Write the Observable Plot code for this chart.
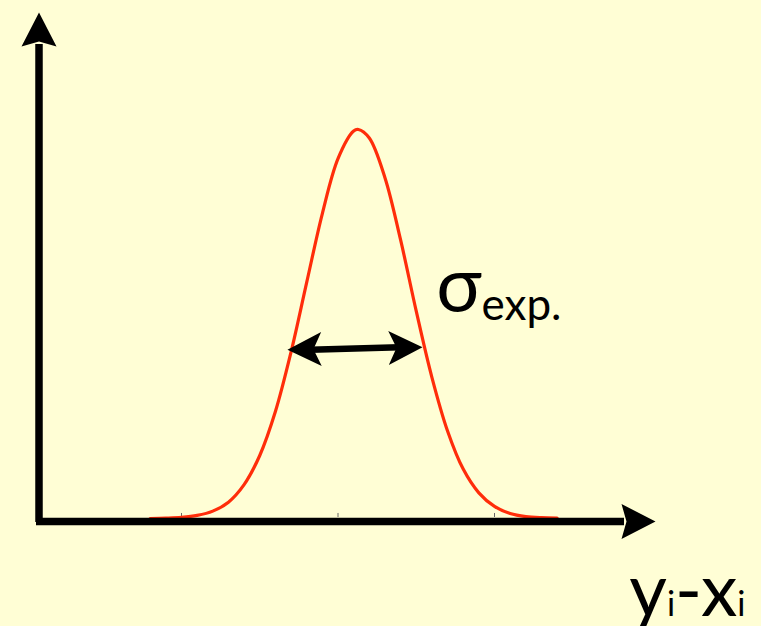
<!DOCTYPE html>
<html>
<head>
<meta charset="utf-8">
<script src="https://cdn.jsdelivr.net/npm/d3@7"></script>
<script src="https://cdn.jsdelivr.net/npm/@observablehq/plot@0.6"></script>
<style>
  html, body { margin: 0; padding: 0; background: #fffed5; }
  #chart svg { display: block; }
</style>
</head>
<body>
<div id="chart"></div>
<script>
// Gaussian curve (x in tick units, y relative to peak)
const curveX = [-1.2, -1.1, -1.0, -0.9, -0.8, -0.7, -0.6, -0.5, -0.4, -0.3, -0.2, -0.1, 0.0, 0.1, 0.13, 0.2, 0.3, 0.4, 0.5, 0.6, 0.7, 0.8, 0.9, 1.0, 1.1, 1.2, 1.3, 1.4];
const curveY = [0.000, 0.001, 0.003, 0.008, 0.019, 0.042, 0.087, 0.162, 0.275, 0.428, 0.607, 0.784, 0.925, 0.996, 1.000, 0.978, 0.876, 0.716, 0.533, 0.363, 0.225, 0.127, 0.066, 0.031, 0.013, 0.005, 0.002, 0.001];
// tick positions on the horizontal axis
const tickValues = [-1, 0, 1];
// width arrow (sigma) end points
const sigmaX = [-0.323, 0.540];
const sigmaY = [0.434, 0.440];
// labels
const sigmaParts = [{t: "σ", role: "main"}, {t: "exp.", role: "sub"}];
const axisParts = [{t: "y", role: "main"}, {t: "i", role: "sub"}, {t: "-", role: "main"}, {t: "x", role: "main"}, {t: "i", role: "sub"}];

const curve = curveX.map((x, i) => ({x, y: curveY[i]}));

// axis geometry in data units
const axisX0 = -1.9105, axisYBase = -0.0077;
const yShaftTop = 1.2185, yTip = 1.3008, yShaftBottom = -0.0103;
const xShaftStart = -1.9265, xShaftEnd = 1.8307, xTip = 2.0288;

function headSymbol(L, W, N) {
  return {
    draw(ctx) {
      ctx.moveTo(0, 0);
      ctx.lineTo(W / 2, L);
      ctx.lineTo(0, L - N);
      ctx.lineTo(-W / 2, L);
      ctx.closePath();
    }
  };
}
const axisHead = headSymbol(34, 35, 5);
const sigmaHead = headSymbol(34, 34, 8);

const tilt = Math.atan2(-(sigmaY[1] - sigmaY[0]) * 389, (sigmaX[1] - sigmaX[0]) * 156.5) * 180 / Math.PI;
const shaftIn = 23 / 156.5; // shaft ends inside the heads

const font = "Lato, 'DejaVu Sans', sans-serif";

const svg = Plot.plot({
  width: 761,
  height: 626,
  margin: 0,
  x: {domain: [-1, 1], range: [181, 494], axis: null},
  y: {domain: [0, 1], range: [518, 129], axis: null},
  style: {background: "#fffed5", overflow: "visible"},
  marks: [
    // small tick marks
    Plot.ruleX(tickValues, {y1: 0.0026, y2: 0.0129, stroke: "#666", strokeWidth: 1}),
    // gaussian
    Plot.line(curve, {x: "x", y: "y", stroke: "#ff2d0a", strokeWidth: 3.2, curve: "catmull-rom"}),
    // vertical axis
    Plot.ruleX([axisX0], {y1: yShaftBottom, y2: yShaftTop, stroke: "black", strokeWidth: 7.5}),
    Plot.dot([0], {x: () => axisX0, y: () => yTip, symbol: axisHead, r: 10, fill: "black", stroke: "none"}),
    // horizontal axis
    Plot.ruleY([axisYBase], {x1: xShaftStart, x2: xShaftEnd, stroke: "black", strokeWidth: 7.5}),
    Plot.dot([0], {x: () => xTip, y: () => axisYBase, symbol: axisHead, rotate: 90, r: 10, fill: "black", stroke: "none"}),
    // sigma double arrow
    Plot.link([0], {x1: () => sigmaX[0] + shaftIn, y1: () => sigmaY[0], x2: () => sigmaX[1] - shaftIn, y2: () => sigmaY[1], stroke: "black", strokeWidth: 6.5}),
    Plot.dot([0], {x: () => sigmaX[0], y: () => sigmaY[0], symbol: sigmaHead, rotate: -90 + tilt, r: 10, fill: "black", stroke: "none"}),
    Plot.dot([0], {x: () => sigmaX[1], y: () => sigmaY[1], symbol: sigmaHead, rotate: 90 + tilt, r: 10, fill: "black", stroke: "none"}),
    // labels
    Plot.text([sigmaParts.map(d => d.t).join("")], {x: () => 0.627, y: () => 0.5296, text: d => d, textAnchor: "start", lineAnchor: "bottom", fontFamily: font, fontSize: 76, fill: "black"}),
    Plot.text([axisParts.map(d => d.t).join("")], {x: () => 1.861, y: () => -0.2494, text: d => d, textAnchor: "start", lineAnchor: "bottom", fontFamily: font, fontSize: 73, fill: "black"})
  ]
});

// rebuild labels with subscripts
function rebuild(parts, mainSize, subSize, subShift) {
  const label = parts.map(d => d.t).join("");
  d3.select(svg).selectAll("text").filter(function () { return this.textContent === label; }).each(function () {
    const el = d3.select(this);
    el.text(null);
    let prev = "main";
    parts.forEach(p => {
      const ts = el.append("tspan").text(p.t).attr("font-size", p.role === "main" ? mainSize : subSize);
      if (p.role !== prev) ts.attr("dy", p.role === "sub" ? subShift : -subShift);
      prev = p.role;
    });
  });
}
rebuild(sigmaParts, 76, 44, 8);
rebuild(axisParts, 73, 34, 0);

document.getElementById("chart").appendChild(svg);
</script>
</body>
</html>
